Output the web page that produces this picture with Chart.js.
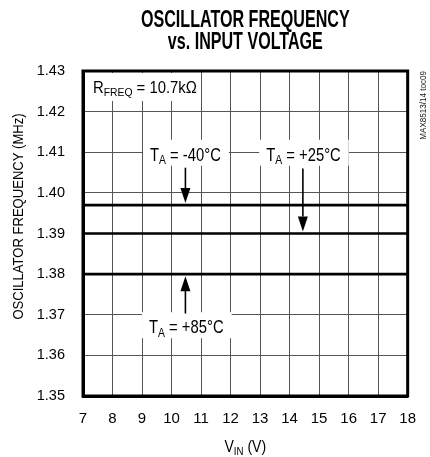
<!DOCTYPE html>
<html>
<head>
<meta charset="utf-8">
<script src="https://cdn.jsdelivr.net/npm/chart.js@4.4.1/dist/chart.umd.min.js"></script>
<style>
  html, body { margin: 0; padding: 0; background: #fff; }
  #wrap { width: 430px; height: 457px; position: relative; }
</style>
</head>
<body>
<div id="wrap"><canvas id="c" width="430" height="457"></canvas></div>
<script>
// ---- data ----
const titleLines = ["OSCILLATOR FREQUENCY", "vs. INPUT VOLTAGE"];
const vinPoints = [7, 18];               // V_IN (V)
const freqMinus40 = [1.397, 1.397];      // MHz, TA = -40°C
const freqPlus25 = [1.390, 1.390];       // MHz, TA = +25°C
const freqPlus85 = [1.380, 1.380];       // MHz, TA = +85°C
const xTicks = [7, 8, 9, 10, 11, 12, 13, 14, 15, 16, 17, 18];
const yTicks = [1.35, 1.36, 1.37, 1.38, 1.39, 1.40, 1.41, 1.42, 1.43];
const yAxisTitle = "OSCILLATOR FREQUENCY (MHz)";
const watermark = "MAX8513/14 toc09";

// annotation anchors (data coordinates)
const notes = [
  { main: "T", sub: "A", rest: " = -40°C", tx: 10.47, ty: 1.41, ax: 10.47, from: 1.4062, to: 1.397, below: false },
  { main: "T", sub: "A", rest: " = +25°C", tx: 14.47, ty: 1.41, ax: 14.45, from: 1.4060, to: 1.390, below: false },
  { main: "T", sub: "A", rest: " = +85°C", tx: 10.5, ty: 1.37, ax: 10.47, from: 1.3703, to: 1.380, below: true }
];

const FONT = "'Liberation Sans', Arial, sans-serif";

function mkData(ys) { return vinPoints.map((x, i) => ({ x: x, y: ys[i] })); }

function measureRich(ctx, parts) {
  let total = 0;
  parts.forEach(p => { ctx.font = (p.bold ? "bold " : "") + p.size + "px " + FONT; p.w = ctx.measureText(p.t).width; total += p.w; });
  return total;
}

function drawRich(ctx, x, baseline, parts, align, sx) {
  const total = measureRich(ctx, parts) * sx;
  const start = align === 'center' ? x - total / 2 : x;
  ctx.save();
  ctx.translate(start, baseline);
  ctx.scale(sx, 1);
  ctx.textAlign = 'left';
  ctx.textBaseline = 'alphabetic';
  let cx = 0;
  parts.forEach(p => {
    ctx.font = (p.bold ? "bold " : "") + p.size + "px " + FONT;
    ctx.fillText(p.t, cx, p.dy || 0);
    cx += p.w;
  });
  ctx.restore();
  return { left: start, right: start + total };
}

function arrow(ctx, x, y1, y2) {
  const dir = y2 > y1 ? 1 : -1;
  const headLen = 15, headW = 5;
  ctx.strokeStyle = '#000';
  ctx.fillStyle = '#000';
  ctx.lineWidth = 1.6;
  ctx.beginPath();
  ctx.moveTo(x, y1);
  ctx.lineTo(x, y2 - dir * headLen);
  ctx.stroke();
  ctx.beginPath();
  ctx.moveTo(x, y2);
  ctx.lineTo(x - headW, y2 - dir * headLen);
  ctx.lineTo(x + headW, y2 - dir * headLen);
  ctx.closePath();
  ctx.fill();
}

const LABEL_SX = 0.8;

const decor = {
  id: 'decor',
  afterDatasetsDraw(chart) {
    const ctx = chart.ctx;
    const xs = chart.scales.x, ys = chart.scales.y;
    const a = chart.chartArea;
    ctx.save();

    // R_FREQ box
    ctx.fillStyle = '#fff';
    ctx.fillRect(a.left + 2, a.top + 2, 114, 28);
    ctx.fillStyle = '#000';
    drawRich(ctx, a.left + 10, a.top + 22, [
      { t: "R", size: 16.5 }, { t: "FREQ", size: 11.5, dy: 3 }, { t: " = 10.7kΩ", size: 16.5 }
    ], 'left', 0.9);

    // temperature labels + arrows
    notes.forEach(n => {
      const cx = xs.getPixelForValue(n.tx);
      const gy = ys.getPixelForValue(n.ty);
      const baseline = n.below ? gy + 18.5 : gy + 8.5;
      const parts = [{ t: n.main, size: 18.5 }, { t: n.sub, size: 13, dy: 3.5 }, { t: n.rest, size: 18.5 }];
      const w = measureRich(ctx, parts) * LABEL_SX;
      ctx.fillStyle = '#fff';
      ctx.fillRect(cx - w / 2 - 7, baseline - 21, w + 15, 26);
      ctx.fillStyle = '#000';
      drawRich(ctx, cx, baseline, parts, 'center', LABEL_SX);
      const axp = xs.getPixelForValue(n.ax);
      const y1 = ys.getPixelForValue(n.from);
      const lineY = ys.getPixelForValue(n.to);
      const tip = y1 < lineY ? lineY - 2 : lineY + 2;
      arrow(ctx, axp, y1, tip);
    });

    // frame
    ctx.strokeStyle = '#000';
    ctx.lineWidth = 3;
    ctx.strokeRect(a.left, a.top, a.right - a.left, a.bottom - a.top);
    ctx.restore();
  },
  afterDraw(chart) {
    const ctx = chart.ctx;
    const a = chart.chartArea;
    ctx.save();
    ctx.fillStyle = '#000';
    const mid = (a.left + a.right) / 2;
    // title (heavy condensed look)
    drawRich(ctx, mid, 27, [{ t: titleLines[0], size: 23, bold: true }], 'center', 0.70);
    drawRich(ctx, mid, 48.5, [{ t: titleLines[1], size: 23, bold: true }], 'center', 0.70);
    // y axis title
    ctx.save();
    ctx.translate(23, (a.top + a.bottom) / 2 - 17);
    ctx.rotate(-Math.PI / 2);
    drawRich(ctx, 0, 0, [{ t: yAxisTitle, size: 15 }], 'center', 0.87);
    ctx.restore();
    // x axis title
    drawRich(ctx, mid, 452, [
      { t: "V", size: 16 }, { t: "IN", size: 11, dy: 3 }, { t: " (V)", size: 16 }
    ], 'center', 0.88);
    // watermark
    ctx.save();
    ctx.translate(a.right + 15, a.top);
    ctx.rotate(-Math.PI / 2);
    ctx.fillStyle = '#222';
    const wm = [{ t: watermark, size: 9.5 }];
    const ww = measureRich(ctx, wm) * 0.85;
    drawRich(ctx, -ww, 3, wm, 'left', 0.85);
    ctx.restore();
    ctx.restore();
  }
};

const lineStyle = { borderColor: '#000', borderWidth: 2.7, pointRadius: 0, fill: false, tension: 0 };

new Chart(document.getElementById('c'), {
  type: 'line',
  data: {
    datasets: [
      Object.assign({ label: 'TA = -40°C', data: mkData(freqMinus40) }, lineStyle),
      Object.assign({ label: 'TA = +25°C', data: mkData(freqPlus25) }, lineStyle),
      Object.assign({ label: 'TA = +85°C', data: mkData(freqPlus85) }, lineStyle)
    ]
  },
  options: {
    responsive: false,
    animation: false,
    devicePixelRatio: 1,
    layout: { padding: { top: 71, right: 22, bottom: 0, left: 0 } },
    plugins: { legend: { display: false }, title: { display: false }, tooltip: { enabled: false } },
    scales: {
      x: {
        type: 'linear',
        min: xTicks[0], max: xTicks[xTicks.length - 1],
        afterBuildTicks(scale) { scale.ticks = xTicks.map(v => ({ value: v })); },
        afterFit(scale) { scale.height = 61; },
        grid: { color: '#555', lineWidth: 1, drawTicks: false },
        border: { display: true, color: '#000', width: 3 },
        ticks: { color: '#000', padding: 14, font: { family: FONT, size: 15 }, callback: v => String(v), maxRotation: 0, autoSkip: false }
      },
      y: {
        type: 'linear',
        min: yTicks[0], max: yTicks[yTicks.length - 1],
        afterBuildTicks(scale) { scale.ticks = yTicks.map(v => ({ value: v })); },
        afterFit(scale) { scale.width = 83; },
        grid: { color: '#555', lineWidth: 1, drawTicks: false },
        border: { display: true, color: '#000', width: 3 },
        ticks: { color: '#000', padding: 18, font: { family: FONT, size: 14.5 }, callback: v => Number(v).toFixed(2), autoSkip: false }
      }
    }
  },
  plugins: [decor]
});
</script>
</body>
</html>
